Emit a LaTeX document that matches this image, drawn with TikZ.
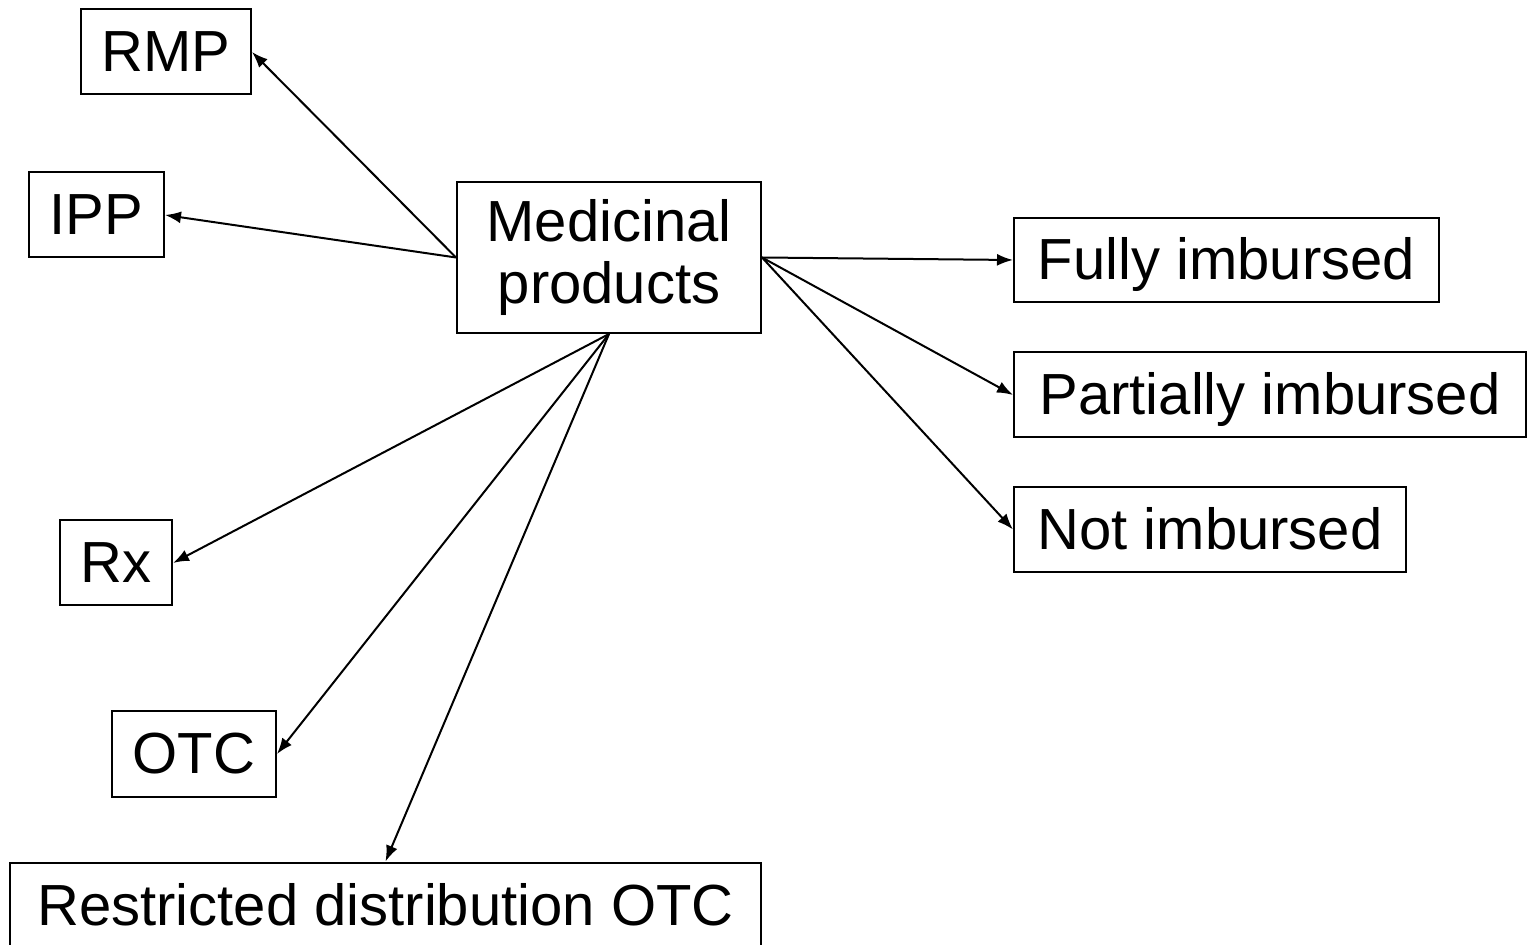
\documentclass[tikz,border=0pt]{standalone}
\usepackage{fontspec}
\setmainfont{Liberation Sans}
\usepackage{tikz}
\usetikzlibrary{arrows.meta}
\tikzset{b/.style={draw,line width=1pt,rectangle,inner sep=0pt,minimum height=42.5pt,font=\fontsize{29}{31}\selectfont}}
\tikzset{s/.style={b,text height=25pt,text depth=5pt}}
\tikzset{a/.style={-{Latex[length=8pt,width=6pt]},line width=1pt}}

\begin{document}
\begin{tikzpicture}[x=0.5pt,y=-0.5pt]
        \useasboundingbox (0,0) rectangle (1531,945);
        \node [b,minimum width=152pt,minimum height=75.5pt,align=center] (med) at (609,257.5) {Medicinal\\products};
        \node [s,minimum width=85pt] (RMP) at (166,52) {RMP};
        \node [s,minimum width=67.5pt] (IPP) at (96.5,215) {IPP};
        \node [s,minimum width=212.5pt,minimum height=42pt] (full) at (1226.5,260) {Fully imbursed};
        \node [s,minimum width=256pt] (part) at (1270,395) {Partially imbursed};
        \node [s,minimum width=196pt] (notimb) at (1210,529.5) {Not imbursed};
        \node [s,minimum width=56pt] (Rx) at (116,563) {Rx};
        \node [s,minimum width=82pt] (OTC) at (194,754) {OTC};
        \node [s,minimum width=375.5pt] (rOTC) at (385.5,905) {Restricted distribution OTC};
        \draw [a] (med.west) -- (RMP.east);
        \draw [a] (med.west) -- (IPP.east);
        \draw [a] (med.east) -- (full.west);
        \draw [a] (med.east) -- (part.west);
        \draw [a] (med.east) -- (notimb.west);
        \draw [a] (med.south) -- (Rx.east);
        \draw [a] (med.south) -- (OTC.east);
        \draw [a] (med.south) -- (rOTC.north);
      \end{tikzpicture}
\end{document}
